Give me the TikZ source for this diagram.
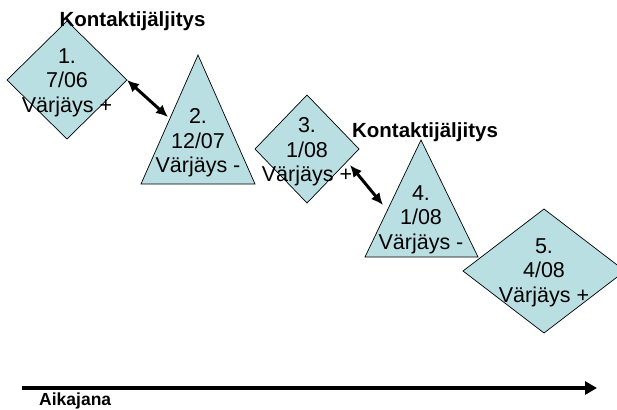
\documentclass[tikz,border=0pt]{standalone}
\usepackage{fontspec}
\setmainfont{Liberation Sans}
\usetikzlibrary{arrows.meta}
\definecolor{shapefill}{RGB}{185,223,227}

\begin{document}
\begin{tikzpicture}[x=1pt,y=-1pt,
  shapebox/.style={draw=black, line width=0.7pt, fill=shapefill, line join=miter},
  shapetext/.style={align=center, inner sep=0pt, font=\fontsize{21.5}{24.5}\selectfont},
  headline/.style={inner sep=0pt, anchor=base, font=\fontsize{20.5}{24}\selectfont\bfseries},
  link/.style={line width=3pt, {Latex[length=12pt,width=11pt]}-{Latex[length=12pt,width=11pt]}},
]
\useasboundingbox (0,0) rectangle (617,409);
\clip (0,0) rectangle (617,409);

% 1. diamond
\draw[shapebox] (67,21) -- (127,80) -- (67,139) -- (7,80) -- cycle;
\node[shapetext] (s1) at (67,82.8) {1.\\7/06\\Värjäys +};

% 2. triangle
\draw[shapebox] (198,55) -- (255,184) -- (141,184) -- cycle;
\node[shapetext] (s2) at (198,142.8) {2.\\12/07\\Värjäys -};

% 3. diamond
\draw[shapebox] (307,95) -- (359,149) -- (307,203) -- (255,149) -- cycle;
\node[shapetext] (s3) at (307,151.8) {3.\\1/08\\Värjäys +};

% 4. triangle
\draw[shapebox] (421,140) -- (478,257) -- (365,257) -- cycle;
\node[shapetext] (s4) at (421,219.8) {4.\\1/08\\Värjäys -};

% 5. diamond
\draw[shapebox] (544,209) -- (625,271) -- (544,333) -- (463,271) -- cycle;
\node[shapetext] (s5) at (544,272.8) {5.\\4/08\\Värjäys +};

% contact tracing headings
\node[headline] (k1) at (132.5,27) {Kontaktijäljitys};
\node[headline] (k2) at (425,137) {Kontaktijäljitys};

% contact links between cases
\coordinate (a1s) at (127,80);
\coordinate (a1e) at (168,117);
\coordinate (a2s) at (350,165);
\coordinate (a2e) at (383,205);
\draw[link] (a1s) -- (a1e);
\draw[link] (a2s) -- (a2e);

% time axis
\coordinate (tl0) at (22,388);
\coordinate (tl1) at (597,388);
\draw[line width=3.5pt, -{Triangle[length=12pt,width=13pt]}] (tl0) -- (tl1);
\node[inner sep=0pt, anchor=base west, font=\fontsize{17.5}{18}\selectfont\bfseries] (axis) at (39,405) {Aikajana};
\end{tikzpicture}
\end{document}
